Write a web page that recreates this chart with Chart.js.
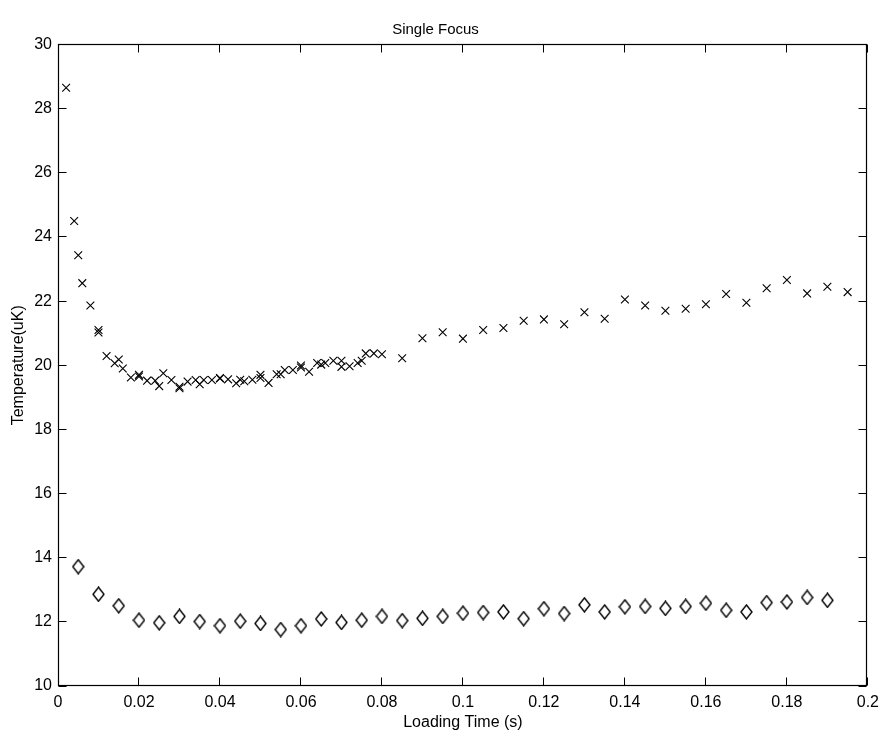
<!DOCTYPE html>
<html><head><meta charset="utf-8">
<script src="https://cdn.jsdelivr.net/npm/chart.js@4"></script>
<style>html,body{margin:0;padding:0;background:#fff}#wrap{width:886px;height:736px}</style>
</head><body><div id="wrap"><canvas id="c" width="886" height="736"></canvas></div>
<script>
const crossX = [0.002,0.004,0.005,0.006,0.008,0.010,0.010,0.012,0.014,0.015,0.016,0.018,0.020,0.020,0.022,0.024,0.025,0.026,0.028,0.030,0.030,0.032,0.034,0.035,0.036,0.038,0.040,0.040,0.042,0.044,0.045,0.046,0.048,0.050,0.050,0.052,0.054,0.055,0.056,0.058,0.060,0.060,0.062,0.064,0.065,0.066,0.068,0.070,0.070,0.072,0.074,0.075,0.076,0.078,0.080,0.085,0.090,0.095,0.100,0.105,0.110,0.115,0.120,0.125,0.130,0.135,0.140,0.145,0.150,0.155,0.160,0.165,0.170,0.175,0.180,0.185,0.190,0.195];
const crossY = [28.65,24.50,23.43,22.56,21.86,21.10,21.02,20.29,20.06,20.18,19.90,19.62,19.70,19.65,19.52,19.52,19.35,19.75,19.54,19.33,19.28,19.49,19.54,19.41,19.54,19.54,19.59,19.60,19.56,19.44,19.55,19.50,19.55,19.70,19.60,19.45,19.72,19.72,19.85,19.85,19.99,19.93,19.80,20.07,20.02,20.07,20.14,20.14,19.95,19.97,20.07,20.14,20.37,20.37,20.34,20.22,20.84,21.03,20.83,21.10,21.16,21.39,21.43,21.28,21.65,21.45,22.05,21.86,21.70,21.76,21.90,22.22,21.95,22.40,22.66,22.24,22.45,22.28];
const diamondX = [0.005,0.010,0.015,0.020,0.025,0.030,0.035,0.040,0.045,0.050,0.055,0.060,0.065,0.070,0.075,0.080,0.085,0.090,0.095,0.100,0.105,0.110,0.115,0.120,0.125,0.130,0.135,0.140,0.145,0.150,0.155,0.160,0.165,0.170,0.175,0.180,0.185,0.190];
const diamondY = [13.72,12.86,12.50,12.05,11.97,12.17,12.01,11.88,12.02,11.95,11.76,11.88,12.09,11.98,12.05,12.17,12.04,12.11,12.17,12.27,12.29,12.31,12.10,12.41,12.26,12.53,12.31,12.47,12.48,12.42,12.48,12.58,12.36,12.31,12.60,12.62,12.76,12.67];
const xTicks = [0,0.02,0.04,0.06,0.08,0.1,0.12,0.14,0.16,0.18,0.2];
const xTickLabels = ['0','0.02','0.04','0.06','0.08','0.1','0.12','0.14','0.16','0.18','0.2'];
const yTicks = [10,12,14,16,18,20,22,24,26,28,30];
const yTickLabels = ['10','12','14','16','18','20','22','24','26','28','30'];

const FONT = 'Liberation Sans, Arial, Helvetica, sans-serif';

function diamondSprite(w, h) {
  const c = document.createElement('canvas');
  c.width = w + 2; c.height = h + 2;
  const g = c.getContext('2d');
  g.strokeStyle = '#000'; g.lineWidth = 1.4;
  g.beginPath();
  g.moveTo(c.width / 2, 1);
  g.lineTo(c.width - 1, c.height / 2);
  g.lineTo(c.width / 2, c.height - 1);
  g.lineTo(1, c.height / 2);
  g.closePath();
  g.stroke();
  return c;
}

const framePlugin = {
  id: 'frame',
  afterDatasetsDraw(chart) {
    const {ctx, chartArea: a, scales: {x, y}} = chart;
    ctx.save();
    ctx.strokeStyle = '#000';
    ctx.lineWidth = 1;
    const L = Math.floor(a.left) + 0.5, R = Math.floor(a.right) - 0.5;
    const T = Math.floor(a.top) + 0.5, B = Math.floor(a.bottom) - 0.5;
    ctx.beginPath();
    xTicks.forEach(v => {
      const p = Math.floor(x.getPixelForValue(v)) + 0.5;
      ctx.moveTo(p, B); ctx.lineTo(p, B - 8);
      ctx.moveTo(p, T); ctx.lineTo(p, T + 8);
    });
    yTicks.forEach(v => {
      const p = Math.floor(y.getPixelForValue(v)) + 0.5;
      ctx.moveTo(L, p); ctx.lineTo(L + 8, p);
      ctx.moveTo(R, p); ctx.lineTo(R - 8, p);
    });
    ctx.stroke();
    ctx.lineWidth = 1.2;
    ctx.strokeRect(L, T, R - L, B - T);
    ctx.restore();
  }
};

new Chart(document.getElementById('c'), {
  type: 'scatter',
  data: {
    datasets: [
      {
        data: crossX.map((v, i) => ({x: v, y: crossY[i]})),
        pointStyle: 'crossRot', pointRadius: 5.5, pointHoverRadius: 5.5,
        borderColor: '#000', backgroundColor: '#000', pointBorderWidth: 1.1
      },
      {
        data: diamondX.map((v, i) => ({x: v, y: diamondY[i]})),
        pointStyle: diamondSprite(11, 14), pointRadius: 7,
        borderColor: '#000', backgroundColor: 'rgba(0,0,0,0)'
      }
    ]
  },
  options: {
    responsive: false,
    animation: false,
    events: [],
    layout: {padding: {left: 0, right: 15, top: 0, bottom: 0}},
    plugins: {
      legend: {display: false},
      tooltip: {enabled: false},
      title: {
        display: true, text: 'Single Focus', color: '#000',
        font: {family: FONT, size: 15, weight: 'normal', lineHeight: 1.2},
        padding: {top: 20.5, bottom: 6}
      }
    },
    scales: {
      x: {
        type: 'linear', min: 0, max: 0.2,
        afterBuildTicks: s => { s.ticks = xTicks.map(v => ({value: v})); },
        afterFit: s => { s.height = 50; },
        grid: {display: false, drawTicks: false},
        border: {display: false},
        ticks: {color: '#000', padding: 7, maxRotation: 0, autoSkip: false,
          font: {family: FONT, size: 16},
          callback: (v, i) => xTickLabels[i]},
        title: {display: true, text: 'Loading Time (s)', color: '#000',
          font: {family: FONT, size: 16}, padding: {top: 0, bottom: 4}}
      },
      y: {
        type: 'linear', min: 10, max: 30,
        afterBuildTicks: s => { s.ticks = yTicks.map(v => ({value: v})); },
        afterFit: s => { s.width = 58; },
        grid: {display: false, drawTicks: false},
        border: {display: false},
        ticks: {color: '#000', padding: 6, autoSkip: false,
          font: {family: FONT, size: 16},
          callback: (v, i) => yTickLabels[i]},
        title: {display: true, text: 'Temperature(uK)', color: '#000',
          font: {family: FONT, size: 16}, padding: {top: 9, bottom: 0}}
      }
    }
  },
  plugins: [framePlugin]
});
</script>
</body></html>
